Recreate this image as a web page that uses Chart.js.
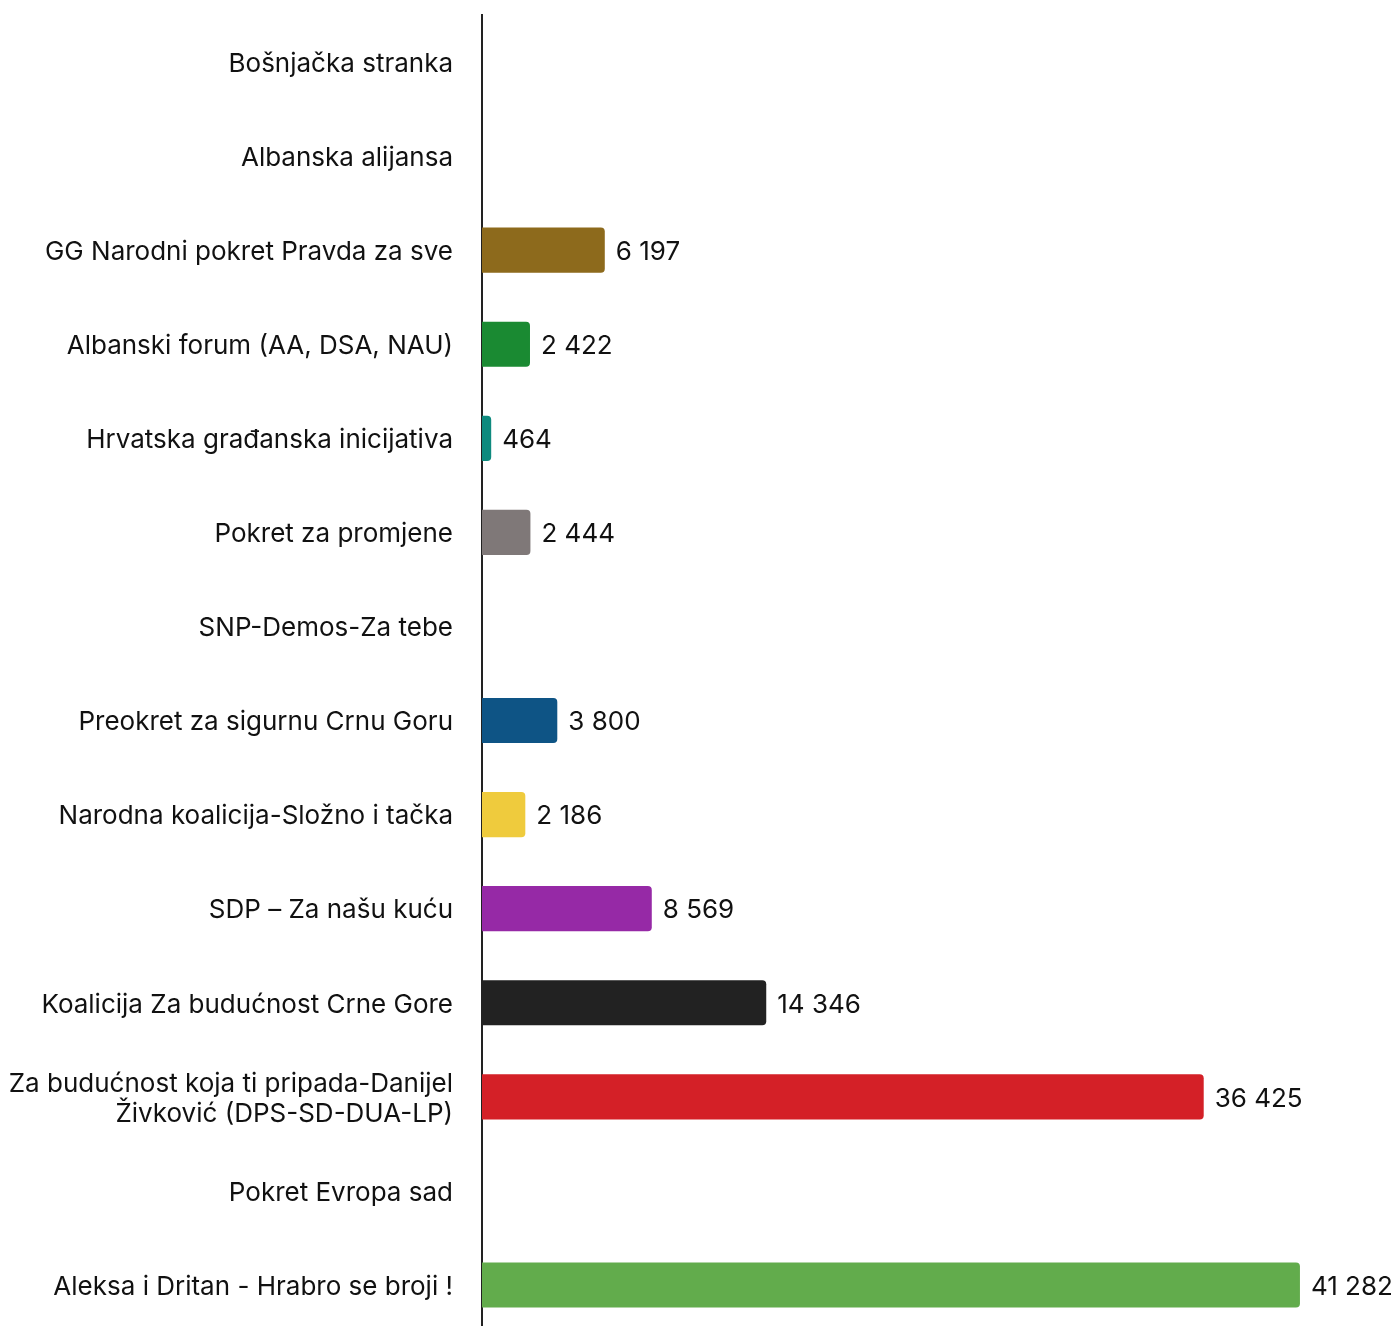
<!DOCTYPE html>
<html>
<head>
<meta charset="utf-8">
<script src="https://cdn.jsdelivr.net/npm/chart.js@4.4.0/dist/chart.umd.min.js"></script>
<style>
  html, body { margin: 0; padding: 0; background: #fff; overflow: hidden; }
  #wrap { position: relative; width: 1396px; height: 1332px; }
</style>
</head>
<body>
<div id="wrap"><canvas id="resultsChart"></canvas></div>
<script>
// Party lists (top to bottom)
const parties = [
  'Bošnjačka stranka',
  'Albanska alijansa',
  'GG Narodni pokret Pravda za sve',
  'Albanski forum (AA, DSA, NAU)',
  'Hrvatska građanska inicijativa',
  'Pokret za promjene',
  'SNP-Demos-Za tebe',
  'Preokret za sigurnu Crnu Goru',
  'Narodna koalicija-Složno i tačka',
  'SDP – Za našu kuću',
  'Koalicija Za budućnost Crne Gore',
  ['Za budućnost koja ti pripada-Danijel', 'Živković (DPS-SD-DUA-LP)'],
  'Pokret Evropa sad',
  'Aleksa i Dritan - Hrabro se broji !'
];

// Votes (null = no bar shown)
const votes = [null, null, 6197, 2422, 464, 2444, null, 3800, 2186, 8569, 14346, 36425, null, 41282];

const barColors = [
  '#8a8a8a', '#8a8a8a', '#8d6a1c', '#1a8a32', '#0e8a7e', '#7f7878', '#8a8a8a',
  '#0e5485', '#efcb3d', '#9629a6', '#222222', '#d42027', '#8a8a8a', '#62ac4c'
];

Chart.defaults.font.family = 'Inter';
Chart.defaults.font.size = 26;
Chart.defaults.color = '#111';

function fmt(v) {
  return String(v).replace(/\B(?=(\d{3})+(?!\d))/g, ' ');
}

// value labels to the right of each bar
const valueLabels = {
  id: 'valueLabels',
  afterDatasetsDraw(chart) {
    const ctx = chart.ctx;
    const meta = chart.getDatasetMeta(0);
    ctx.save();
    ctx.font = '26px Inter';
    ctx.fillStyle = '#111';
    ctx.textAlign = 'left';
    ctx.textBaseline = 'middle';
    meta.data.forEach((bar, i) => {
      const v = votes[i];
      if (v == null) return;
      ctx.fillText(fmt(v), bar.x + 11, bar.y + 2);
    });
    ctx.restore();
  }
};

const ctx = document.getElementById('resultsChart');
new Chart(ctx, {
  type: 'bar',
  data: {
    labels: parties,
    datasets: [{
      data: votes,
      backgroundColor: barColors,
      borderRadius: 4,
      categoryPercentage: 1,
      barPercentage: 0.48
    }]
  },
  options: {
    indexAxis: 'y',
    responsive: true,
    maintainAspectRatio: false,
    animation: false,
    layout: { padding: { top: 15, right: 0, bottom: 0, left: 0 } },
    plugins: {
      legend: { display: false },
      tooltip: { enabled: false }
    },
    scales: {
      x: {
        display: false,
        min: 0,
        max: 46130
      },
      y: {
        grid: { display: false, drawTicks: false },
        border: { display: true, color: '#222', width: 2 },
        ticks: { padding: 29, labelOffset: 2, color: '#111', font: { size: 26, lineHeight: 1.154 } },
        afterFit(scale) {
          scale.width = 482;
          scale.paddingTop = 0;
          scale.paddingBottom = 0;
        }
      }
    }
  },
  plugins: [valueLabels]
});
</script>
</body>
</html>
